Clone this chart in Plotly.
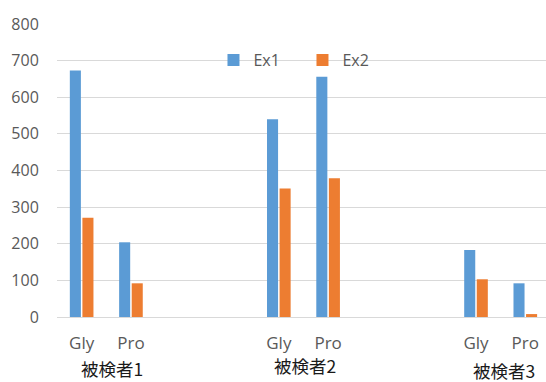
import plotly.graph_objects as go

subjects = ["被検者1", "被検者2", "被検者3"]
amino = ["Gly", "Pro"]
ex1 = [[673, 204], [540, 656], [183, 92]]
ex2 = [[271, 92], [351, 379], [103, 8]]
y_ticks = [0, 100, 200, 300, 400, 500, 600, 700, 800]

SLOTS_PER_GROUP = 4  # Gly, Pro, then two empty slots

xs, labels, v1, v2 = [], [], [], []
for g, subj in enumerate(subjects):
    for j, a in enumerate(amino):
        xs.append(g * SLOTS_PER_GROUP + j)
        labels.append(a)
        v1.append(ex1[g][j])
        v2.append(ex2[g][j])

fig = go.Figure()
fig.add_trace(go.Bar(x=xs, y=v1, name="Ex1", marker=dict(color="#5B9BD5", line=dict(width=0))))
fig.add_trace(go.Bar(x=xs, y=v2, name="Ex2", marker=dict(color="#ED7D31", line=dict(width=0))))

label_y = [-0.175, -0.166, -0.182]
label_dx = [6, 2, 3]
for g, subj in enumerate(subjects):
    fig.add_annotation(
        x=g * SLOTS_PER_GROUP + 0.5, y=label_y[g], xref="x", yref="paper",
        xshift=label_dx[g],
        text=subj, showarrow=False, borderpad=0,
        font=dict(family="Noto Sans CJK JP", size=17.5, color="#1a1a1a"),
        xanchor="center", yanchor="middle",
    )

fig.update_layout(
    width=546, height=382,
    margin=dict(l=57, r=0, t=24, b=65),
    paper_bgcolor="white", plot_bgcolor="white",
    barmode="group", bargap=0.49, bargroupgap=0.12,
    font=dict(family="Open Sans", color="#595959", size=15),
    legend=dict(
        orientation="h", x=0.32, y=0.877, xanchor="left", yanchor="middle",
        font=dict(size=16, color="#595959"), bgcolor="rgba(0,0,0,0)",
        entrywidth=44, itemwidth=30,
    ),
    showlegend=True,
)
fig.update_xaxes(
    range=[-0.5, 9.42], tickmode="array", tickvals=xs, ticktext=labels,
    showgrid=False, zeroline=False, showline=False,
    ticks="outside", ticklen=11, tickcolor="rgba(0,0,0,0)",
    tickfont=dict(size=17, color="#595959"),
)
fig.update_yaxes(
    range=[0, 800], tickmode="array", tickvals=y_ticks,
    showgrid=True, gridcolor="#D9D9D9", gridwidth=1,
    zeroline=True, zerolinecolor="#D9D9D9", zerolinewidth=1,
    showline=False,
    ticks="outside", ticklen=14, tickcolor="rgba(0,0,0,0)",
    tickfont=dict(size=16, color="#595959"),
)

fig.write_html("out.html")
